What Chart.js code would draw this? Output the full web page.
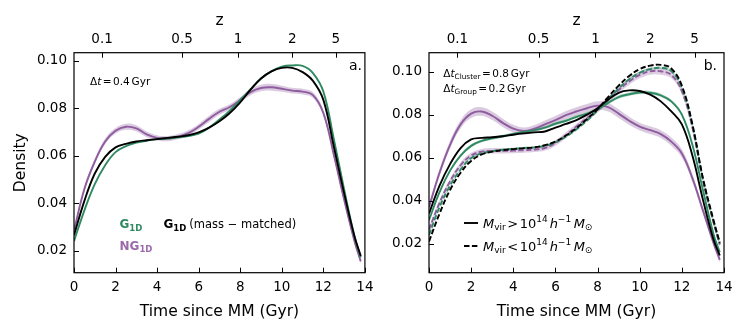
<!DOCTYPE html>
<html>
<head>
<meta charset="utf-8">
<script src="https://cdn.jsdelivr.net/npm/chart.js@4.4.1/dist/chart.umd.min.js"></script>
<style>
  body { margin: 0; background: #fff; }
  #wrap { position: relative; width: 747px; height: 330px; }
  .panel { position: absolute; top: 0; height: 330px; }
</style>
</head>
<body>
<div id="wrap">
  <div class="panel" style="left:0;width:380px"><canvas id="chartA"></canvas></div>
  <div class="panel" style="left:380px;width:367px"><canvas id="chartB"></canvas></div>
</div>
<script>
// shared axes
const times = [0, 0.5, 1, 1.5, 2, 2.5, 3, 3.5, 4, 4.5, 5, 5.5, 6, 6.5, 7, 7.5, 8, 8.5, 9, 9.5, 10, 10.5, 11, 11.5, 12, 12.5, 13, 13.5, 13.8];
const timeTicks = [0, 2, 4, 6, 8, 10, 12, 14];
const densityTicks = [0.02, 0.04, 0.06, 0.08, 0.10];
const zTickLabels = ['0.1', '0.5', '1', '2', '5'];
const zTickTimes = [1.35, 5.2, 7.9, 10.5, 12.6];

// panel a
const gA     = [0.024, 0.037, 0.048, 0.056, 0.0615, 0.064, 0.0655, 0.0663, 0.067, 0.0672, 0.0677, 0.0683, 0.0693, 0.0718, 0.0752, 0.079, 0.0835, 0.088, 0.0925, 0.0955, 0.0975, 0.098, 0.0978, 0.0948, 0.087, 0.0672, 0.0458, 0.026, 0.0172];
const gMassA = [0.0265, 0.041, 0.0525, 0.0595, 0.0635, 0.065, 0.066, 0.0665, 0.067, 0.0675, 0.068, 0.0686, 0.0698, 0.0718, 0.0745, 0.078, 0.0825, 0.0878, 0.0925, 0.0955, 0.097, 0.097, 0.0952, 0.0915, 0.0835, 0.064, 0.0442, 0.026, 0.0178];
const ngA    = [0.0285, 0.046, 0.0575, 0.066, 0.0705, 0.0722, 0.0715, 0.069, 0.0675, 0.0672, 0.068, 0.0695, 0.0722, 0.0755, 0.0785, 0.0805, 0.0835, 0.0868, 0.0885, 0.0888, 0.0882, 0.0874, 0.087, 0.0855, 0.078, 0.0605, 0.0415, 0.024, 0.0155];
const ngBandA = [0.0012, 0.0012, 0.0012, 0.0012, 0.0012, 0.0013, 0.0013, 0.0012, 0.0011, 0.0011, 0.0011, 0.0012, 0.0012, 0.0013, 0.0013, 0.0012, 0.0012, 0.0013, 0.0014, 0.0014, 0.0013, 0.0012, 0.0012, 0.0012, 0.0013, 0.0013, 0.0012, 0.0011, 0.001];

// panel b (solid = cluster, dashed = group)
const gClusterB     = [0.031, 0.044, 0.054, 0.061, 0.0655, 0.0678, 0.069, 0.07, 0.071, 0.072, 0.0728, 0.074, 0.0758, 0.0772, 0.079, 0.0805, 0.0825, 0.0855, 0.0882, 0.0895, 0.0903, 0.0902, 0.089, 0.0862, 0.08, 0.066, 0.045, 0.0245, 0.016];
const gGroupB       = [0.024, 0.037, 0.047, 0.0545, 0.0598, 0.062, 0.063, 0.0637, 0.0641, 0.0645, 0.0648, 0.0655, 0.0672, 0.0698, 0.0732, 0.0773, 0.082, 0.0872, 0.0922, 0.0965, 0.0995, 0.1012, 0.1018, 0.1003, 0.0925, 0.075, 0.05, 0.0305, 0.02];
const gMassClusterB = [0.034, 0.047, 0.057, 0.0645, 0.0685, 0.0692, 0.0695, 0.07, 0.0707, 0.0713, 0.0718, 0.0722, 0.074, 0.0757, 0.0775, 0.08, 0.083, 0.087, 0.0902, 0.0913, 0.091, 0.0893, 0.0862, 0.0815, 0.0755, 0.061, 0.0405, 0.022, 0.0145];
const gMassGroupB   = [0.021, 0.034, 0.045, 0.053, 0.0585, 0.0615, 0.0628, 0.0635, 0.064, 0.0644, 0.0648, 0.0658, 0.0675, 0.0703, 0.0738, 0.078, 0.0825, 0.0882, 0.0935, 0.098, 0.1012, 0.1028, 0.1032, 0.1015, 0.0935, 0.0755, 0.0505, 0.031, 0.0205];
const ngClusterB    = [0.037, 0.053, 0.066, 0.0755, 0.0805, 0.0815, 0.0795, 0.0762, 0.0735, 0.0724, 0.0735, 0.0755, 0.0775, 0.0798, 0.0815, 0.083, 0.0842, 0.0835, 0.0805, 0.0772, 0.0745, 0.0728, 0.071, 0.0675, 0.062, 0.0505, 0.0355, 0.0205, 0.0125];
const ngGroupB      = [0.0265, 0.039, 0.049, 0.0565, 0.061, 0.0628, 0.0632, 0.0632, 0.0633, 0.0635, 0.0638, 0.0645, 0.0668, 0.0705, 0.0745, 0.0785, 0.0825, 0.0868, 0.0915, 0.0955, 0.0985, 0.1002, 0.1002, 0.0985, 0.091, 0.074, 0.0495, 0.03, 0.0195];
const gClusterBandB  = [0.0007, 0.0007, 0.0007, 0.0007, 0.0007, 0.0007, 0.0007, 0.0007, 0.0007, 0.0007, 0.0007, 0.0007, 0.0007, 0.0007, 0.0007, 0.0007, 0.0007, 0.0008, 0.0008, 0.0008, 0.0008, 0.0008, 0.0008, 0.0008, 0.0008, 0.0007, 0.0007, 0.0006, 0.0006];
const gGroupBandB    = [0.0005, 0.0005, 0.0005, 0.0005, 0.0005, 0.0005, 0.0005, 0.0005, 0.0005, 0.0005, 0.0005, 0.0005, 0.0005, 0.0005, 0.0005, 0.0005, 0.0005, 0.0006, 0.0006, 0.0006, 0.0006, 0.0006, 0.0006, 0.0006, 0.0006, 0.0005, 0.0005, 0.0005, 0.0005];
const ngClusterBandB = [0.0016, 0.0017, 0.0018, 0.0019, 0.002, 0.002, 0.002, 0.0019, 0.0018, 0.0017, 0.0017, 0.0018, 0.0019, 0.0019, 0.002, 0.002, 0.002, 0.002, 0.002, 0.0019, 0.0018, 0.0018, 0.0018, 0.0019, 0.0019, 0.0018, 0.0017, 0.0016, 0.0015];
const ngGroupBandB   = [0.0012, 0.0012, 0.0012, 0.0013, 0.0013, 0.0013, 0.0013, 0.0012, 0.0012, 0.0012, 0.0012, 0.0012, 0.0013, 0.0013, 0.0013, 0.0014, 0.0015, 0.0016, 0.0016, 0.0016, 0.0016, 0.0016, 0.0016, 0.0016, 0.0015, 0.0014, 0.0013, 0.0012, 0.0012];

const GREEN = '#2f8a63';
const PURPLE = '#8e5c9f';
const BLACK = '#000000';
const DASH = [5.5, 2.4];
const FONT = '"DejaVu Sans"';

Chart.defaults.font.family = FONT;
Chart.defaults.color = '#000';

function pts(vals, shift, sign) {
  return times.map((t, i) => ({ x: t, y: shift ? vals[i] + sign * shift[i] : vals[i] }));
}

function line(vals, color, dashed) {
  return {
    data: pts(vals), borderColor: color, borderWidth: 1.9, borderDash: dashed ? DASH : [],
    pointRadius: 0, fill: false, tension: 0.4
  };
}

// pushes lower + upper edges, the upper one filled down to the lower one
function band(list, vals, spread, fillColor) {
  const lowIdx = list.length;
  list.push({ data: pts(vals, spread, -1), borderWidth: 0, pointRadius: 0, fill: false, tension: 0.4 });
  list.push({ data: pts(vals, spread, 1), borderWidth: 0, pointRadius: 0, fill: { target: lowIdx }, backgroundColor: fillColor, tension: 0.4 });
}

// draws a run of text pieces (sub/superscripts) from left to right
function drawRich(ctx, x, y, parts, color) {
  ctx.save();
  ctx.fillStyle = color || '#000';
  ctx.textAlign = 'left';
  ctx.textBaseline = 'alphabetic';
  parts.forEach(p => {
    ctx.font = (p.st || '') + ' ' + p.s + 'px ' + FONT;
    ctx.fillText(p.t, x, y + (p.dy || 0));
    x += ctx.measureText(p.t).width + (p.g || 0);
  });
  ctx.restore();
}

function frameTicks(annotate) {
  return {
    id: 'frameTicks',
    afterDatasetsDraw(chart) {
      const { ctx, chartArea: a, scales } = chart;
      ctx.save();
      ctx.strokeStyle = '#000';
      ctx.lineWidth = 1;
      ctx.beginPath();
      scales.x.ticks.forEach(t => {
        const px = Math.round(scales.x.getPixelForValue(t.value)) + 0.5;
        ctx.moveTo(px, a.bottom); ctx.lineTo(px, a.bottom - 5);
      });
      scales.x2.ticks.forEach(t => {
        const px = Math.round(scales.x2.getPixelForValue(t.value)) + 0.5;
        ctx.moveTo(px, a.top); ctx.lineTo(px, a.top + 5);
      });
      scales.y.ticks.forEach(t => {
        const py = Math.round(scales.y.getPixelForValue(t.value)) + 0.5;
        ctx.moveTo(a.left, py); ctx.lineTo(a.left + 5, py);
      });
      ctx.stroke();
      ctx.lineWidth = 1.2;
      ctx.strokeRect(a.left, a.top, a.right - a.left, a.bottom - a.top);
      ctx.restore();
      annotate(ctx);
    }
  };
}

function makeScales(yMin, yMax, yWidth, yTitle) {
  return {
    x: {
      type: 'linear', position: 'bottom', min: 0, max: 14,
      afterBuildTicks: s => { s.ticks = timeTicks.map(v => ({ value: v })); },
      afterFit: s => { s.height = 57.3; },
      grid: { display: false, drawTicks: false }, border: { display: false },
      ticks: { font: { size: 13.5 }, padding: 6.5, autoSkip: false, maxRotation: 0 },
      title: { display: true, text: 'Time since MM (Gyr)', font: { size: 15.5 }, padding: { top: 0, bottom: 8.5 } }
    },
    x2: {
      type: 'linear', position: 'top', min: 0, max: 14,
      afterBuildTicks: s => { s.ticks = zTickTimes.map(v => ({ value: v })); },
      afterFit: s => { s.height = 52.7; },
      grid: { display: false, drawTicks: false }, border: { display: false },
      ticks: { font: { size: 13.5 }, padding: 5, autoSkip: false, maxRotation: 0,
               callback: (v, i) => zTickLabels[i] },
      title: { display: true, text: 'z', font: { size: 15.5 }, padding: { top: 11.5, bottom: 0 } }
    },
    y: {
      type: 'linear', min: yMin, max: yMax,
      afterBuildTicks: s => { s.ticks = densityTicks.map(v => ({ value: v })); },
      afterFit: s => { s.width = yWidth; },
      grid: { display: false, drawTicks: false }, border: { display: false },
      ticks: { font: { size: 13.5 }, padding: 7, callback: v => v.toFixed(2) },
      title: { display: !!yTitle, text: yTitle || '', font: { size: 15.5 }, padding: { top: 11.5, bottom: 0 } }
    }
  };
}

function baseOptions(scales, padRight) {
  return {
    responsive: true, maintainAspectRatio: false, animation: false,
    layout: { padding: { left: 0, right: padRight, top: 0, bottom: 0 } },
    plugins: { legend: { display: false }, tooltip: { enabled: false }, filler: { drawTime: 'beforeDatasetsDraw' } },
    scales: scales
  };
}

// ---------------- panel a ----------------
const dsA = [line(gMassA, BLACK), line(gA, GREEN), line(ngA, PURPLE)];
band(dsA, ngA, ngBandA, 'rgba(142, 92, 159, 0.32)');

new Chart(document.getElementById('chartA'), {
  type: 'line',
  data: { datasets: dsA },
  options: baseOptions(makeScales(0.01074, 0.10337, 74, 'Density'), 9),
  plugins: [frameTicks(ctx => {
    drawRich(ctx, 90, 85.3, [
      { t: 'Δ', s: 10.5 }, { t: 't', s: 10.5, st: 'italic', g: 1.5 }, { t: '=', s: 10.5, g: 1.5 },
      { t: '0.4', s: 10.5, g: 1.8 }, { t: 'Gyr', s: 10.5 }]);
    ctx.save();
    ctx.font = '14px ' + FONT; ctx.textAlign = 'right'; ctx.fillStyle = '#000';
    ctx.fillText('a.', 362, 70);
    ctx.restore();
    drawRich(ctx, 119.5, 228.3, [{ t: 'G', s: 12, st: 'bold' }, { t: '1D', s: 8.5, st: 'bold', dy: 2.5 }], GREEN);
    drawRich(ctx, 163.5, 228.3, [{ t: 'G', s: 12, st: 'bold' }, { t: '1D', s: 8.5, st: 'bold', dy: 2.5, g: 3 },
      { t: '(mass − matched)', s: 11.5 }], BLACK);
    drawRich(ctx, 119.5, 249.5, [{ t: 'NG', s: 12, st: 'bold' }, { t: '1D', s: 8.5, st: 'bold', dy: 2.5 }], '#9a6aaa');
  })]
});

// ---------------- panel b ----------------
const dsB = [
  line(gMassClusterB, BLACK), line(gMassGroupB, BLACK, true),
  line(gClusterB, GREEN), line(gGroupB, GREEN, true),
  line(ngClusterB, PURPLE), line(ngGroupB, PURPLE, true)
];
band(dsB, gClusterB, gClusterBandB, 'rgba(47, 138, 99, 0.30)');
band(dsB, gGroupB, gGroupBandB, 'rgba(47, 138, 99, 0.25)');
band(dsB, ngClusterB, ngClusterBandB, 'rgba(142, 92, 159, 0.32)');
band(dsB, ngGroupB, ngGroupBandB, 'rgba(142, 92, 159, 0.30)');

new Chart(document.getElementById('chartB'), {
  type: 'line',
  data: { datasets: dsB },
  options: baseOptions(makeScales(0.00651, 0.10884, 49, ''), 23),
  plugins: [frameTicks(ctx => {
    drawRich(ctx, 63.3, 77, [
      { t: 'Δ', s: 10.5 }, { t: 't', s: 10.5, st: 'italic' }, { t: 'Cluster', s: 7.3, dy: 2, g: 1.5 },
      { t: '=', s: 10.5, g: 1.5 }, { t: '0.8', s: 10.5, g: 1.8 }, { t: 'Gyr', s: 10.5 }]);
    drawRich(ctx, 63.3, 92, [
      { t: 'Δ', s: 10.5 }, { t: 't', s: 10.5, st: 'italic' }, { t: 'Group', s: 7.3, dy: 2, g: 1.5 },
      { t: '=', s: 10.5, g: 1.5 }, { t: '0.2', s: 10.5, g: 1.8 }, { t: 'Gyr', s: 10.5 }]);
    ctx.save();
    ctx.font = '14px ' + FONT; ctx.textAlign = 'right'; ctx.fillStyle = '#000';
    ctx.fillText('b.', 337, 70);
    ctx.strokeStyle = '#000'; ctx.lineWidth = 1.9;
    ctx.beginPath(); ctx.moveTo(84, 223); ctx.lineTo(98, 223); ctx.stroke();
    ctx.setLineDash(DASH);
    ctx.beginPath(); ctx.moveTo(84, 246); ctx.lineTo(98, 246); ctx.stroke();
    ctx.restore();
    [['>', 227.8], ['<', 250.8]].forEach(([op, yb]) => {
      drawRich(ctx, 103, yb, [
        { t: 'M', s: 13, st: 'italic' }, { t: 'vir', s: 9, dy: 2.5, g: 1.5 }, { t: op, s: 13, g: 1.5 },
        { t: '10', s: 13 }, { t: '14', s: 9, dy: -5.5, g: 2 }, { t: 'h', s: 13, st: 'italic' },
        { t: '−1', s: 9, dy: -5.5, g: 2.5 }, { t: 'M', s: 13, st: 'italic' }, { t: '⊙', s: 9, dy: 2.5 }]);
    });
  })]
});
</script>
</body>
</html>
